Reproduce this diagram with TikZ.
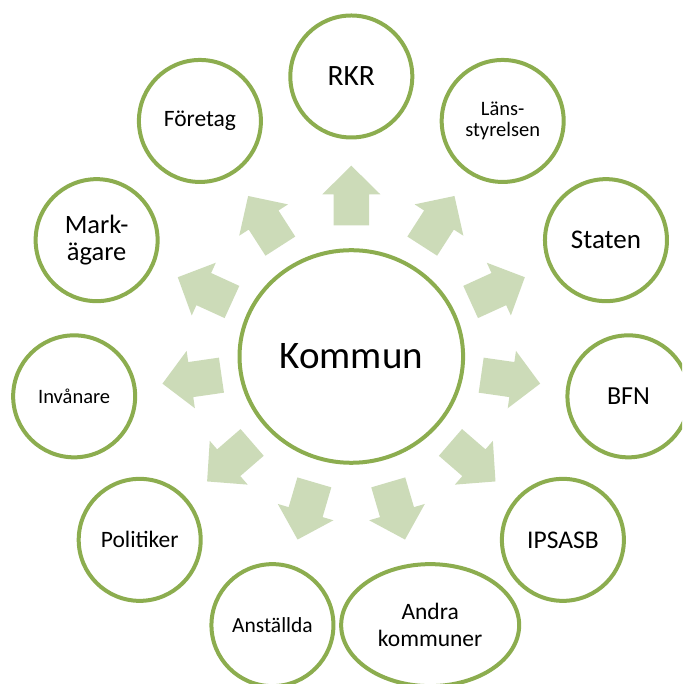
\documentclass[tikz,border=0pt]{standalone}
\usepackage{fontspec}
\setmainfont{Carlito}
\usetikzlibrary{shapes.geometric,calc}
\definecolor{ringgreen}{HTML}{8CAD4F}
\definecolor{arrowgreen}{HTML}{CCDBB8}
\begin{document}
\begin{tikzpicture}[x=1pt,y=1pt,
  ring/.style={circle,draw=ringgreen,line width=4pt,fill=white,
    minimum size=122pt,inner sep=0pt,align=center,text=black},
  oval/.style={ellipse,draw=ringgreen,line width=4pt,fill=white,
    minimum width=178pt,minimum height=122pt,inner sep=0pt,align=center,text=black},
  hub/.style={ellipse,draw=ringgreen,line width=4pt,fill=white,
    minimum width=223.6pt,minimum height=212.6pt,inner sep=0pt,text=black},
  outarrow/.pic={
    \fill[arrowgreen] (131.2,-17.7) -- (162.2,-17.7) -- (162.2,-29) -- (190.8,0)
      -- (162.2,29) -- (162.2,17.7) -- (131.2,17.7) -- cycle;}
]
\useasboundingbox (0,0) rectangle (682,684);
\clip (0,0) rectangle (682,684);

% central organisation
\node[hub,font=\fontsize{39}{47}\selectfont] (kommun) at (351.3,327.5) {Kommun};

% surrounding stakeholders, evenly spread on a ring of radius 280
\node[ring,font=\fontsize{29.5}{35}\selectfont] (rkr)
  at ([shift={(90:280)}]kommun.center) {RKR};
\node[ring,font=\fontsize{20.5}{21.5}\selectfont] (lans)
  at ([shift={(57.27:280)}]kommun.center) {Läns-\\styrelsen};
\node[ring,font=\fontsize{27}{32}\selectfont] (staten)
  at ([shift={(24.55:280)}]kommun.center) {Staten};
\node[ring,font=\fontsize{26}{31}\selectfont] (bfn)
  at ([shift={(-8.18:280)}]kommun.center) {BFN};
\node[ring,font=\fontsize{25.5}{30}\selectfont] (ipsasb)
  at ([shift={(-40.91:280)}]kommun.center) {IPSASB};
\node[oval,font=\fontsize{23.5}{26.7}\selectfont] (andra)
  at ([shift={(-73.64:280)}]kommun.center) {Andra\\kommuner};
\node[ring,font=\fontsize{21.5}{26}\selectfont] (anstallda)
  at ([shift={(-106.36:280)}]kommun.center) {Anställda};
\node[ring,font=\fontsize{23.5}{28}\selectfont] (politiker)
  at ([shift={(-139.09:280)}]kommun.center) {Politiker};
\node[ring,font=\fontsize{20.5}{24}\selectfont] (invanare)
  at ([shift={(-171.82:280)}]kommun.center) {Invånare};
\node[ring,font=\fontsize{26.5}{27.6}\selectfont] (mark)
  at ([shift={(155.45:280)}]kommun.center) {Mark-\\ägare};
\node[ring,font=\fontsize{23.5}{28}\selectfont] (foretag)
  at ([shift={(122.73:280)}]kommun.center) {Företag};

% block arrows pointing from the centre towards each stakeholder
\foreach \t in {rkr,lans,staten,bfn,ipsasb,andra,anstallda,politiker,invanare,mark,foretag}
  \path let \p1=($(\t.center)-(kommun.center)$), \n1={atan2(\y1,\x1)} in
    pic[rotate=\n1] at (kommun.center) {outarrow};
\end{tikzpicture}
\end{document}
